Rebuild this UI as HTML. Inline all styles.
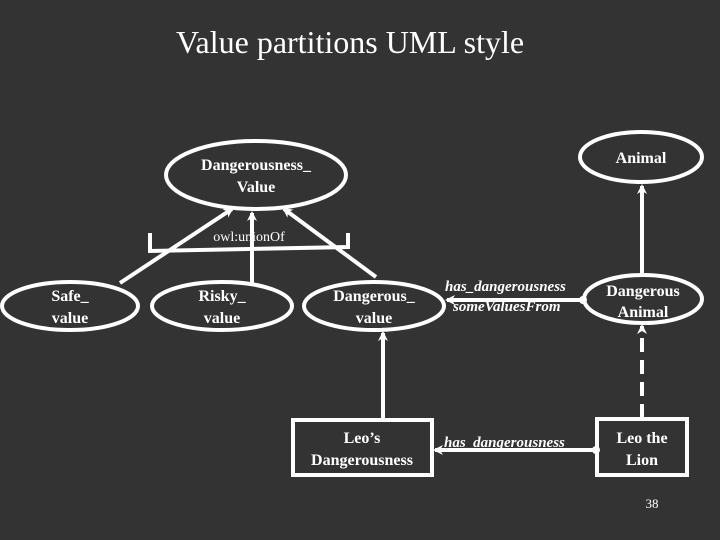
<!DOCTYPE html>
<html><head><meta charset="utf-8"><style>
html,body{margin:0;padding:0;background:#333;}
svg{display:block;}
text{font-family:"Liberation Serif",serif;fill:#fff;}
.b{font-weight:bold;font-size:16px;}
.i{font-weight:bold;font-style:italic;font-size:15px;}
</style></head><body>
<svg width="720" height="540" viewBox="0 0 720 540" xmlns="http://www.w3.org/2000/svg">
<defs>
<marker id="a" markerWidth="10" markerHeight="10" refX="8" refY="5" orient="auto" markerUnits="userSpaceOnUse">
<path d="M0,0 L10,5 L0,10 L3,5 Z" fill="#fff"/></marker>
</defs>
<rect width="720" height="540" fill="#333"/>
<text x="350" y="53" text-anchor="middle" style="font-size:32px">Value partitions UML style</text>
<g fill="none" stroke="#fff" stroke-width="4">
<ellipse cx="256" cy="175" rx="90" ry="34"/>
<ellipse cx="641" cy="157" rx="61" ry="25"/>
<ellipse cx="70" cy="306" rx="68" ry="24"/>
<ellipse cx="222" cy="306" rx="70" ry="24"/>
<ellipse cx="374" cy="306" rx="70" ry="24"/>
<ellipse cx="643" cy="299" rx="59" ry="24"/>
<rect x="293" y="420" width="139" height="55"/>
<rect x="597" y="419" width="90" height="56"/>
<path d="M150,233 V251 L348,247 V233"/>
</g>
<g stroke="#fff" stroke-width="4" fill="none" marker-end="url(#a)">
<line x1="120" y1="283" x2="232" y2="209"/>
<line x1="252" y1="283" x2="252" y2="213"/>
<line x1="376" y1="277" x2="284" y2="209"/>
<line x1="642" y1="275" x2="642" y2="186"/>
<line x1="642" y1="418" x2="642" y2="326" stroke-dasharray="14,8"/>
<line x1="383" y1="419" x2="383" y2="333"/>
<line x1="583" y1="300" x2="447" y2="300"/>
<line x1="596" y1="450" x2="435" y2="450"/>
</g>
<circle cx="583" cy="300" r="4" fill="#fff"/>
<circle cx="596" cy="450" r="4" fill="#fff"/>
<text class="b" x="256" y="170" text-anchor="middle">Dangerousness_</text>
<text class="b" x="256" y="192" text-anchor="middle">Value</text>
<text class="b" x="641" y="163" text-anchor="middle">Animal</text>
<text class="b" x="70" y="301" text-anchor="middle">Safe_</text>
<text class="b" x="70" y="323" text-anchor="middle">value</text>
<text class="b" x="222" y="301" text-anchor="middle">Risky_</text>
<text class="b" x="222" y="323" text-anchor="middle">value</text>
<text class="b" x="374" y="301" text-anchor="middle">Dangerous_</text>
<text class="b" x="374" y="323" text-anchor="middle">value</text>
<text class="b" x="643" y="296" text-anchor="middle">Dangerous</text>
<text class="b" x="643" y="317" text-anchor="middle">Animal</text>
<text class="b" x="362" y="443" text-anchor="middle">Leo’s</text>
<text class="b" x="362" y="465" text-anchor="middle">Dangerousness</text>
<text class="b" x="642" y="443" text-anchor="middle">Leo the</text>
<text class="b" x="642" y="465" text-anchor="middle">Lion</text>
<text x="249" y="241" text-anchor="middle" style="font-size:14px">owl:unionOf</text>
<text class="i" x="445" y="291">has_dangerousness</text>
<text class="i" x="453" y="311">someValuesFrom</text>
<text class="i" x="444" y="447">has_dangerousness</text>
<text x="652" y="508" text-anchor="middle" style="font-size:13px">38</text>
</svg>
</body></html>
